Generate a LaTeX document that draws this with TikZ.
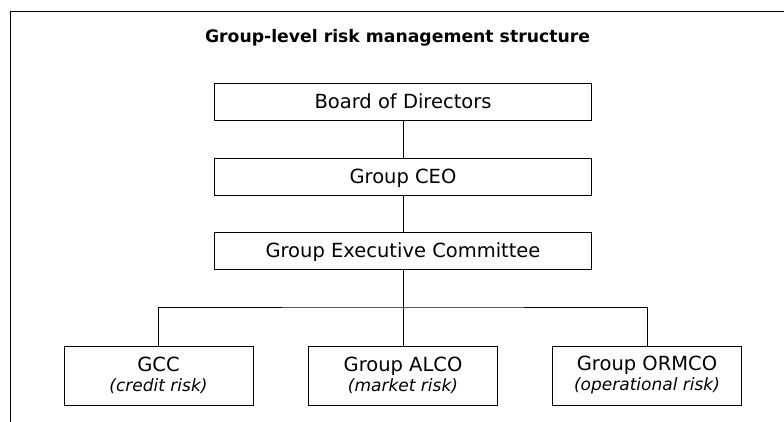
\documentclass[tikz,border=0pt]{standalone}
\usepackage{fontspec}
\setmainfont{DejaVu Sans}
\begin{document}
\begin{tikzpicture}[x=1pt, y=-1pt,
    link/.style={line width=0.9pt},
    unit/.style={draw, line width=0.9pt, minimum width=377pt, minimum height=37pt,
        inner sep=0pt, text height=14.5pt, text depth=0pt,
        font=\fontsize{19.5}{20}\selectfont},
    cttee/.style={draw, line width=0.9pt, minimum width=189pt, minimum height=59pt,
        inner sep=0pt, align=center, font=\fontsize{19.5}{20}\selectfont}]
    \useasboundingbox (0, 0) rectangle (784, 422);

    \draw[link] (10, 422) -- (10, 11) -- (784, 11);
    \node[anchor=base, font=\bfseries\fontsize{17.25}{20}\selectfont] (title) at (397.5, 43)
        {Group-level risk management structure};

    \node[unit] (board) at (403, 101.5) {Board of Directors};
    \node[unit] (ceo) at (403, 176.5) {Group CEO};
    \node[unit] (exec) at (403, 250.5) {Group Executive Committee};

    \node[cttee] (gcc) at (158.5, 375.5)
        {GCC\\{\fontsize{17}{20}\selectfont\itshape (credit risk)}};
    \node[cttee] (alco) at (403, 375.5)
        {Group ALCO\\{\fontsize{17}{20}\selectfont\itshape (market risk)}};
    \node[cttee] (ormco) at (647, 375.5)
        {Group ORMCO\\{\fontsize{17}{20}\selectfont\itshape (operational risk)}};

    \coordinate (bus) at (403, 307);
    \draw[link] (board) -- (ceo);
    \draw[link] (ceo) -- (exec);
    \draw[link] (exec) -- (alco);
    \draw[link] (gcc.north) |- (bus) -| (ormco.north);
\end{tikzpicture}
\end{document}
